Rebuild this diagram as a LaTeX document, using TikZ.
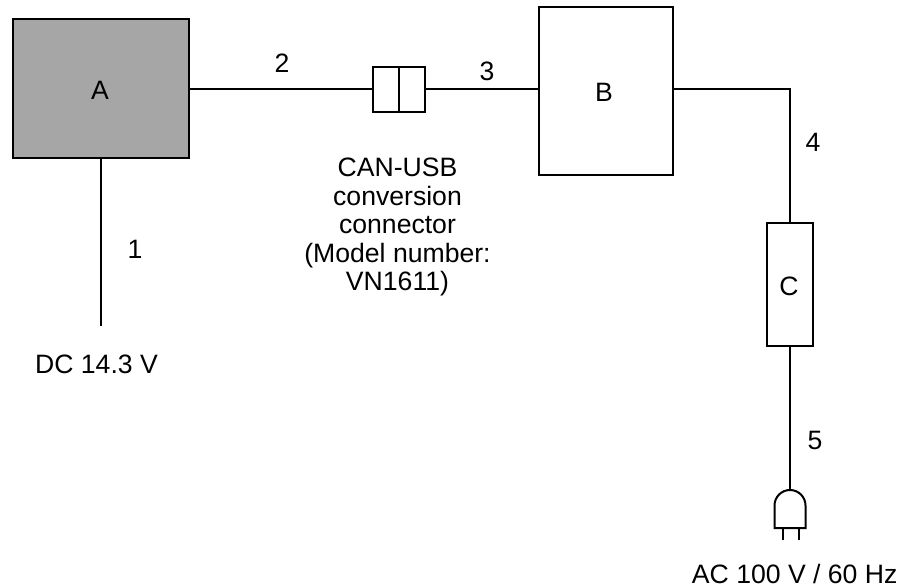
\documentclass[tikz,border=0pt]{standalone}
\usepackage{fontspec}
\setmainfont{Liberation Sans}
\begin{document}
\begin{tikzpicture}[x=0.5pt,y=-0.5pt,
  line width=1pt,
  every node/.style={font=\fontsize{13.3}{14.25}\selectfont},
  block/.style={draw=black,line width=1pt,inner sep=0pt},
  lbl/.style={anchor=base,inner sep=0pt}]
\useasboundingbox (0,0) rectangle (900,588);
% blocks
\node[block,fill={rgb,255:red,166;green,166;blue,166},minimum width=88pt,minimum height=69.5pt] (A) at (101,88.5) {};
\node[block,minimum width=26.2pt,minimum height=22.2pt] (conn) at (399,89.5) {};
\draw (conn.north) -- (conn.south);
\node[block,minimum width=67pt,minimum height=84pt] (B) at (606,91) {};
\node[block,minimum width=23pt,minimum height=61.5pt] (C) at (790,284.5) {};
% text in blocks
\node[lbl] (tA) at (100,100) {A};
\node[lbl] (tB) at (604,101.5) {B};
\node[lbl] (tC) at (789,296) {C};
% connectors
\coordinate (dcend) at (101,326);
\coordinate (plug) at (790,490);
\draw (A.south) -- (dcend);
\draw (A.east |- conn.west) -- (conn.west);
\draw (conn.east) -- (conn.east -| B.west);
\draw (B.east |- conn.east) -| (C.north);
\draw (C.south) -- (plug);
% plug
\draw (plug) ++(-15.5,38) -- ++(0,-22.5) arc[start angle=180,end angle=0,radius=7.75pt] -- ++(0,22.5) -- cycle;
\draw (plug) ++(-7,38) -- ++(0,12);
\draw (plug) ++(9,38) -- ++(0,12);
% labels
\node[lbl] (l1) at (135,259) {1};
\node[lbl] (l2) at (282,73) {2};
\node[lbl] (l3) at (487,81) {3};
\node[lbl] (l4) at (813,152) {4};
\node[lbl] (l5) at (815,450) {5};
\node[lbl] (dc) at (96.5,373) {DC 14.3 V};
\node[lbl] (ac) at (794.7,583) {AC 100 V / 60 Hz};
\node[anchor=north,inner sep=0pt,align=center] (cantext) at (397.5,157) {CAN-USB\\conversion\\connector\\(Model number:\\VN1611)};
\end{tikzpicture}
\end{document}
